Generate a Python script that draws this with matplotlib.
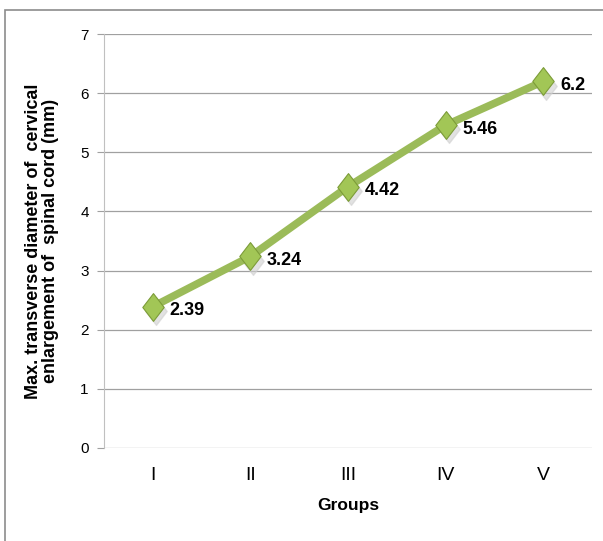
import matplotlib
matplotlib.use('Agg')
import matplotlib.pyplot as plt
from matplotlib.patches import Rectangle
from matplotlib.path import Path

groups = ['I', 'II', 'III', 'IV', 'V']
diameter = [2.39, 3.24, 4.42, 5.46, 6.2]
value_labels = ['2.39', '3.24', '4.42', '5.46', '6.2']

plt.rcParams['font.family'] = ['Liberation Sans', 'DejaVu Sans']

# tall diamond like the Excel marker
diamond = Path([(0, 1.3), (1, 0), (0, -1.3), (-1, 0), (0, 1.3)],
               [Path.MOVETO, Path.LINETO, Path.LINETO, Path.LINETO, Path.CLOSEPOLY])

fig = plt.figure(figsize=(6.03, 5.41), dpi=100)
ax = fig.add_axes([0.1725, 0.172, 0.8095, 0.765])

# outer chart border
fig.patches.append(Rectangle((0.009, -0.02), 1.2, 1.0 - 0.0185 + 0.02, transform=fig.transFigure,
                             fill=False, edgecolor='#8c8c8c', linewidth=1.2))

x = list(range(len(groups)))
# soft shadow under markers
ax.plot([v + 0.03 for v in x], [v - 0.07 for v in diameter], marker=diamond, linestyle='none',
        markersize=20, color='#d0d0d0', alpha=0.6, zorder=2)
ax.plot(x, diameter, '-', color='#9bbb59', linewidth=5.5, solid_capstyle='round', zorder=3)
ax.plot(x, diameter, marker=diamond, linestyle='none', markersize=20, markerfacecolor='#a2c656',
        markeredgecolor='#7c9c38', markeredgewidth=0.8, zorder=4)

for xi, yi, lab in zip(x, diameter, value_labels):
    ax.annotate(lab, (xi, yi), xytext=(12, -3), textcoords='offset points',
                fontsize=13, fontweight='bold', va='center', ha='left', zorder=5)

ax.set_xlim(-0.5, 4.5)
ax.set_ylim(0, 7)
ax.set_yticks(range(0, 8))
ax.set_xticks(x)
ax.set_xticklabels(groups, fontsize=14)
ax.tick_params(axis='x', length=0, pad=14)
ax.tick_params(axis='y', length=5, color='#a0a0a0', labelsize=11, pad=6)
ax.grid(axis='y', color='#a0a0a0', linewidth=0.9)
ax.set_axisbelow(True)
for s in ['top', 'right', 'bottom']:
    ax.spines[s].set_visible(False)
ax.spines['left'].set_color('#c0c0c0')

ax.set_xlabel('Groups', fontsize=12.5, fontweight='bold', labelpad=10)
ax.set_ylabel('Max. transverse diameter of  cervical\nenlargement of  spinal cord (mm)',
              fontsize=13, fontweight='bold', labelpad=15, linespacing=1.0)

fig.savefig('out.png', dpi=100)
